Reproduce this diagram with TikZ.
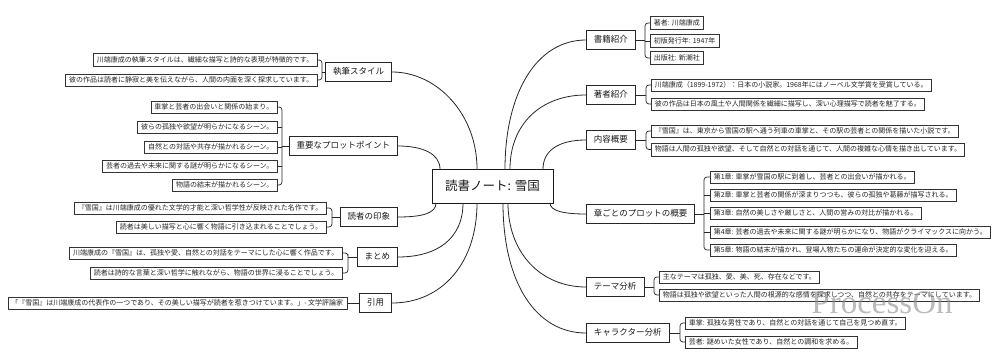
\documentclass[tikz,border=0pt]{standalone}
\usepackage{fontspec}
\setmainfont{Noto Sans CJK JP}
\newfontfamily\wmfont{Liberation Serif}
\usetikzlibrary{calc}
\tikzset{
  leaf/.style={draw=black!80, line width=0.5pt, fill=white, text=black!85,
    font=\fontsize{7}{8}\selectfont, inner xsep=3.5pt, inner ysep=0pt,
    text height=5.8pt, text depth=1.4pt, minimum height=12.5pt},
  mainbox/.style={draw=black!85, line width=0.7pt, fill=white, text=black!90,
    font=\fontsize{8.5}{10}\selectfont, inner xsep=7.5pt, inner ysep=0pt,
    text height=7pt, text depth=1.7pt, minimum height=19pt},
  rootbox/.style={draw=black!90, line width=0.8pt, fill=white, text=black!90,
    font=\fontsize{12.5}{14}\selectfont, minimum width=121pt, minimum height=34pt, inner sep=0pt},
  conn/.style={draw=black!85, line width=0.8pt},
  brk/.style={draw=black!85, line width=0.7pt, rounded corners=3pt},
}
\begin{document}
\begin{tikzpicture}[x=1pt,y=-1pt]
\fill[white] (0,0) rectangle (1000,361);
\useasboundingbox (0,0) rectangle (1000,361);

% root
\node[rootbox] (root) at (492.5,186) {読書ノート: 雪国};
\coordinate (s1) at (477,169);
\coordinate (s2) at (440,169);
\coordinate (s3) at (436,203);
\coordinate (s4) at (463,203);
\coordinate (s5) at (477,203);
\coordinate (t1) at (505,169);
\coordinate (t2) at (510,169);
\coordinate (t3) at (543,169);
\coordinate (t4) at (550,203);
\coordinate (t5) at (508,203);
\coordinate (t6) at (503,203);

% ---------- right side ----------
\node[mainbox, anchor=west] (m1) at (586,40) {書籍紹介};
\node[leaf, anchor=west] (l11) at (650,23) {著者: 川端康成};
\node[leaf, anchor=west] (l12) at (650,41) {初版発行年: 1947年};
\node[leaf, anchor=west] (l13) at (650,58) {出版社: 新潮社};
\coordinate (b1) at (645,40);

\node[mainbox, anchor=west] (m2) at (586,95) {著者紹介};
\node[leaf, anchor=west] (l21) at (651,85) {川端康成（1899-1972）：日本の小説家。1968年にはノーベル文学賞を受賞している。};
\node[leaf, anchor=west] (l22) at (651,104) {彼の作品は日本の風土や人間関係を繊細に描写し、深い心理描写で読者を魅了する。};
\coordinate (b2) at (646,95);

\node[mainbox, anchor=west] (m3) at (586,140) {内容概要};
\node[leaf, anchor=west] (l31) at (651,131) {『雪国』は、東京から雪国の駅へ通う列車の車掌と、その駅の芸者との関係を描いた小説です。};
\node[leaf, anchor=west] (l32) at (651,149.5) {物語は人間の孤独や欲望、そして自然との対話を通じて、人間の複雑な心情を描き出しています。};
\coordinate (b3) at (646,140);

\node[mainbox, anchor=west] (m4) at (586,214) {章ごとのプロットの概要};
\node[leaf, anchor=west] (l41) at (710,177) {第1章: 車掌が雪国の駅に到着し、芸者との出会いが描かれる。};
\node[leaf, anchor=west] (l42) at (710,195) {第2章: 車掌と芸者の関係が深まりつつも、彼らの孤独や葛藤が描写される。};
\node[leaf, anchor=west] (l43) at (710,213) {第3章: 自然の美しさや厳しさと、人間の営みの対比が描かれる。};
\node[leaf, anchor=west] (l44) at (710,232) {第4章: 芸者の過去や未来に関する謎が明らかになり、物語がクライマックスに向かう。};
\node[leaf, anchor=west] (l45) at (710,250) {第5章: 物語の結末が描かれ、登場人物たちの運命が決定的な変化を迎える。};
\coordinate (b4) at (704,214);

\node[mainbox, anchor=west] (m5) at (586,287) {テーマ分析};
\node[leaf, anchor=west] (l51) at (659,277) {主なテーマは孤独、愛、美、死、存在などです。};
\node[leaf, anchor=west] (l52) at (659,295) {物語は孤独や欲望といった人間の根源的な感情を探求しつつ、自然との共存をテーマにしています。};
\coordinate (b5) at (654,287);

\node[mainbox, anchor=west] (m6) at (586,333) {キャラクター分析};
\node[leaf, anchor=west] (l61) at (685,323) {車掌: 孤独な男性であり、自然との対話を通じて自己を見つめ直す。};
\node[leaf, anchor=west] (l62) at (685,342) {芸者: 謎めいた女性であり、自然との調和を求める。};
\coordinate (b6) at (680,333);

% ---------- left side ----------
\node[mainbox, anchor=east] (n1) at (392,72) {執筆スタイル};
\node[leaf, anchor=east] (k11) at (317,60) {川端康成の執筆スタイルは、繊細な描写と詩的な表現が特徴的です。};
\node[leaf, anchor=east] (k12) at (317,80) {彼の作品は読者に静寂と美を伝えながら、人間の内面を深く探求しています。};
\coordinate (c1) at (322,72);

\node[mainbox, anchor=east] (n2) at (398,146) {重要なプロットポイント};
\node[leaf, anchor=east] (k21) at (277,107) {車掌と芸者の出会いと関係の始まり。};
\node[leaf, anchor=east] (k22) at (277,127) {彼らの孤独や欲望が明らかになるシーン。};
\node[leaf, anchor=east] (k23) at (277,147) {自然との対話や共存が描かれるシーン。};
\node[leaf, anchor=east] (k24) at (277,166) {芸者の過去や未来に関する謎が明らかになるシーン。};
\node[leaf, anchor=east] (k25) at (277,185) {物語の結末が描かれるシーン。};
\coordinate (c2) at (282,146);

\node[mainbox, anchor=east] (n3) at (398,217) {読者の印象};
\node[leaf, anchor=east] (k31) at (326,208) {『雪国』は川端康成の優れた文学的才能と深い哲学性が反映された名作です。};
\node[leaf, anchor=east] (k32) at (326,227) {読者は美しい描写と心に響く物語に引き込まれることでしょう。};
\coordinate (c3) at (332,217);

\node[mainbox, anchor=east] (n4) at (398,257) {まとめ};
\node[leaf, anchor=east] (k41) at (342,253) {川端康成の『雪国』は、孤独や愛、自然との対話をテーマにした心に響く作品です。};
\node[leaf, anchor=east] (k42) at (342,273) {読者は詩的な言葉と深い哲学に触れながら、物語の世界に浸ることでしょう。};
\coordinate (c4) at (348,257);

\node[mainbox, anchor=east] (n5) at (392,303) {引用};
\node[leaf, anchor=east] (k51) at (347,303) {「『雪国』は川端康成の代表作の一つであり、その美しい描写が読者を惹きつけています。」- 文学評論家};

% ---------- main curves ----------
\draw[conn] (s1) .. controls +(0,-55) and +(45,0) .. (n1.east);
\draw[conn] (s2) .. controls +(0,-15) and +(25,0) .. (n2.east);
\draw[conn] (s3) .. controls +(0,10) and +(25,0) .. (n3.east);
\draw[conn] (s4) .. controls +(0,35) and +(40,0) .. (n4.east);
\draw[conn] (s5) .. controls +(0,60) and +(50,0) .. (n5.east);
\draw[conn] (t1) .. controls +(0,-75) and +(-50,0) .. (m1.west);
\draw[conn] (t2) .. controls +(0,-45) and +(-45,0) .. (m2.west);
\draw[conn] (t3) .. controls +(0,-18) and +(-28,0) .. (m3.west);
\draw[conn] (t4) .. controls +(0,8) and +(-22,0) .. (m4.west);
\draw[conn] (t5) .. controls +(0,50) and +(-45,0) .. (m5.west);
\draw[conn] (t6) .. controls +(0,80) and +(-50,0) .. (m6.west);

% ---------- brackets right ----------
\draw[brk] (m1.east) -- (b1);
\draw[brk] (l11.west) -| (b1) |- (l13.west);
\draw[brk] (l12.west) -- (l12.west -| b1);

\draw[brk] (m2.east) -- (b2);
\draw[brk] (l21.west) -| (b2) |- (l22.west);

\draw[brk] (m3.east) -- (b3);
\draw[brk] (l31.west) -| (b3) |- (l32.west);

\draw[brk] (m4.east) -- (b4);
\draw[brk] (l41.west) -| (b4) |- (l45.west);
\draw[brk] (l42.west) -- (l42.west -| b4);
\draw[brk] (l43.west) -- (l43.west -| b4);
\draw[brk] (l44.west) -- (l44.west -| b4);

\draw[brk] (m5.east) -- (b5);
\draw[brk] (l51.west) -| (b5) |- (l52.west);

\draw[brk] (m6.east) -- (b6);
\draw[brk] (l61.west) -| (b6) |- (l62.west);

% ---------- brackets left ----------
\draw[brk] (n1.west) -- (c1);
\draw[brk] (k11.east) -| (c1) |- (k12.east);

\draw[brk] (n2.west) -- (c2);
\draw[brk] (k21.east) -| (c2) |- (k25.east);
\draw[brk] (k22.east) -- (k22.east -| c2);
\draw[brk] (k23.east) -- (k23.east -| c2);
\draw[brk] (k24.east) -- (k24.east -| c2);

\draw[brk] (n3.west) -- (c3);
\draw[brk] (k31.east) -| (c3) |- (k32.east);

\draw[brk] (n4.west) -- (c4);
\draw[brk] (k41.east) -| (c4) |- (k42.east);

\draw[brk] (n5.west) -- (k51.east);

% watermark
\node[anchor=base, text=black!45, opacity=0.6, font=\wmfont\fontsize{33}{36}\selectfont] (wm) at (882,313) {ProcessOn};
\end{tikzpicture}
\end{document}
